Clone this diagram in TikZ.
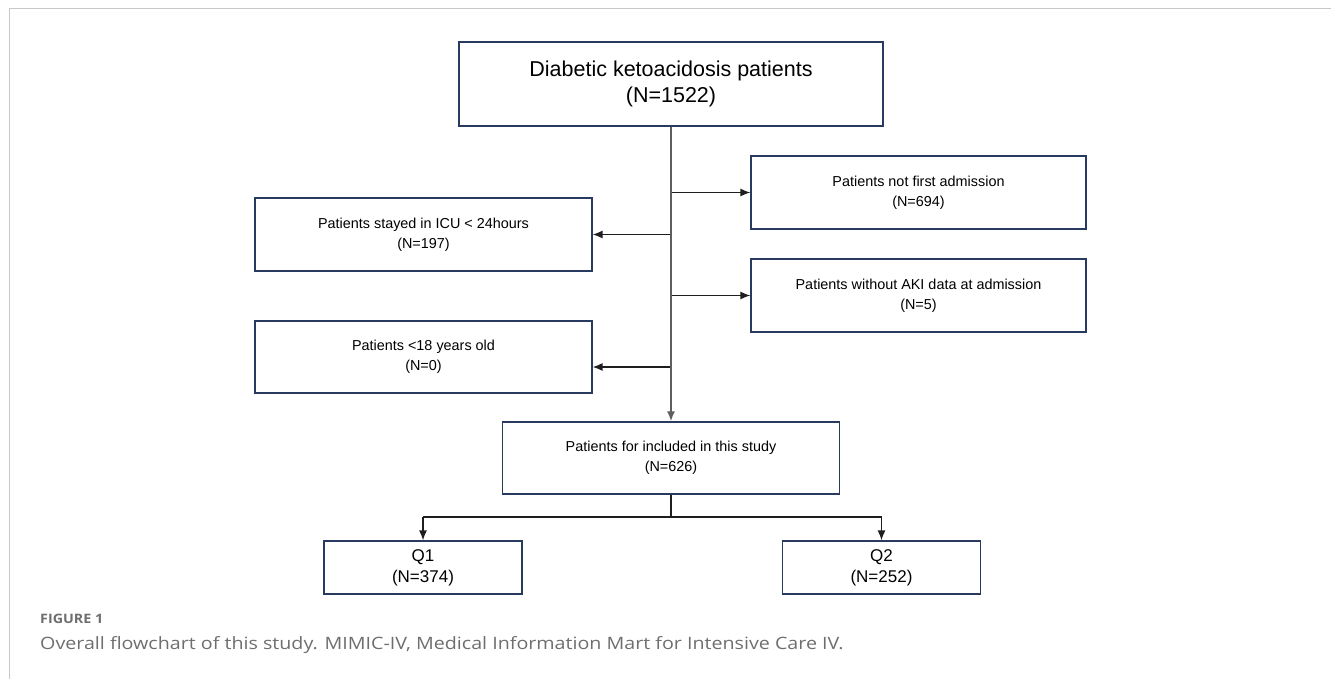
\documentclass[tikz,border=0pt]{standalone}
\usepackage{fontspec}
\setmainfont{Liberation Sans}
\newfontfamily\capfont{Open Sans}
\usetikzlibrary{arrows.meta}
\definecolor{boxc}{RGB}{40,58,95}
\definecolor{framec}{RGB}{200,200,200}
\definecolor{spinec}{RGB}{95,95,95}
\definecolor{linec}{RGB}{30,30,30}
\definecolor{capc}{RGB}{110,110,110}
\tikzset{
  flowbox/.style={draw=boxc, line width=1.2pt, fill=white, align=center, inner sep=0pt, text=black},
  smalltxt/.style={font=\fontsize{14.4}{20}\selectfont},
  bigtxt/.style={font=\fontsize{21.5}{26}\selectfont},
  qtxt/.style={font=\fontsize{17}{21}\selectfont},
  conn/.style={draw=linec, line width=1.3pt},
  spine/.style={draw=spinec, line width=1.8pt},
  tip/.style={-{Latex[length=10pt,width=8pt]}},
  arr/.style={conn, tip},
}
\begin{document}
\begin{tikzpicture}[x=1pt,y=-1pt]
\useasboundingbox (0,0) rectangle (1331,679);
% frame
\draw[framec, line width=1pt] (1331,9) -- (9,9) -- (9,679);
% boxes
\node[flowbox, bigtxt, minimum width=424pt, minimum height=84pt] (top) at (671,84) {Diabetic ketoacidosis patients\\(N=1522)};
\node[flowbox, smalltxt, minimum width=335pt, minimum height=73pt] (r1) at (918.5,192.5) {Patients not first admission\\(N=694)};
\node[flowbox, smalltxt, minimum width=337pt, minimum height=73pt] (l1) at (423.5,234.5) {Patients stayed in ICU < 24hours\\(N=197)};
\node[flowbox, smalltxt, minimum width=335pt, minimum height=73pt] (r2) at (918.5,295.5) {Patients without AKI data at admission\\(N=5)};
\node[flowbox, smalltxt, minimum width=337pt, minimum height=72pt] (l2) at (423.5,357) {Patients <18 years old\\(N=0)};
\node[flowbox, smalltxt, minimum width=337pt, minimum height=72pt] (inc) at (671,458) {Patients for included in this study\\(N=626)};
\node[flowbox, qtxt, minimum width=198pt, minimum height=53pt] (q1) at (423,567.5) {Q1\\(N=374)};
\node[flowbox, qtxt, minimum width=198pt, minimum height=53pt] (q2) at (881.5,567.5) {Q2\\(N=252)};
% spine coordinates
\coordinate (s1) at (671,192.5);
\coordinate (s2) at (671,234.5);
\coordinate (s3) at (671,295.5);
\coordinate (s4) at (671,367);
\coordinate (split) at (671,517);
\coordinate (qL) at (423,517);
\coordinate (qR) at (881.5,517);
% connectors
\draw[arr] (s1) -- (r1.west |- s1);
\draw[arr] (s2) -- (l1.east |- s2);
\draw[arr] (s3) -- (r2.west |- s3);
\draw[arr] (s4) -- (l2.east |- s4);
\draw[spine, tip] (top.south) -- (inc.north);
\draw[conn] (inc.south) -- (split);
\draw[conn] (qL) -- (qR);
\draw[arr] (qL) -- (q1.north);
\draw[arr] (qR) -- (q2.north);
% caption
\node[anchor=base west, inner sep=0pt, text=capc, font=\capfont\fontsize{13}{15}\selectfont\bfseries] (figlbl) at (40,623) {\scalebox{1.1}[1]{FIGURE 1}};
\node[anchor=base west, inner sep=0pt, text=capc, font=\capfont\fontsize{17}{20}\selectfont] (caption) at (40,649) {\scalebox{1.157}[1]{Overall flowchart of this study. MIMIC-IV, Medical Information Mart for Intensive Care IV.}};
\end{tikzpicture}
\end{document}
